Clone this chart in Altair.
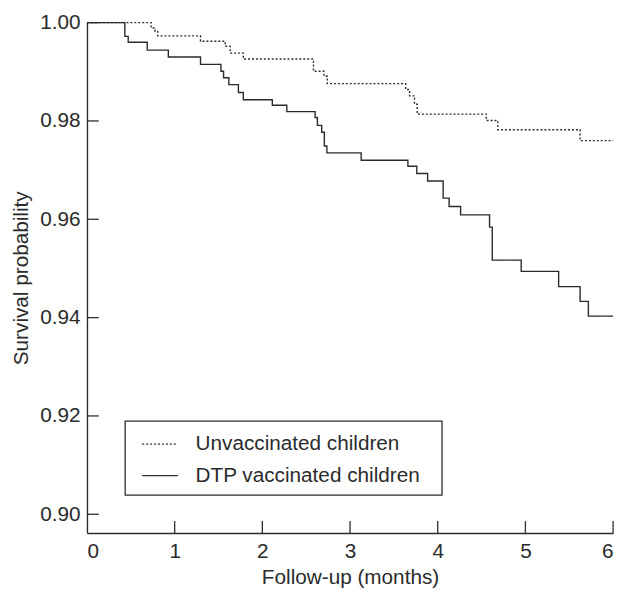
import altair as alt
import pandas as pd

UNVAC = "Unvaccinated children"
DTP = "DTP vaccinated children"

# DTP vaccinated children (value after each step time)
dtp_t = [0, 0.432, 0.47, 0.687, 0.928, 1.295, 1.528, 1.558, 1.618, 1.727, 1.783,
         2.114, 2.279, 2.602, 2.628, 2.677, 2.707, 2.736, 3.127, 3.66, 3.761,
         3.885, 4.062, 4.13, 4.261, 4.591, 4.622, 4.952, 5.379, 5.624, 5.718, 6.0]
dtp_v = [1.0, 0.9972, 0.9960, 0.9944, 0.9930, 0.9915, 0.9901, 0.9888, 0.9874,
         0.9858, 0.9843, 0.9832, 0.9819, 0.9807, 0.9791, 0.9777, 0.9749, 0.9735,
         0.9720, 0.9708, 0.9693, 0.9678, 0.9643, 0.9626, 0.9609, 0.9584, 0.9517,
         0.9494, 0.9463, 0.9433, 0.9403, 0.9403]

# Unvaccinated children
unv_t = [0, 0.732, 0.777, 0.807, 1.295, 1.577, 1.633, 1.783, 2.583, 2.703, 2.741,
         3.634, 3.679, 3.735, 3.766, 4.554, 4.685, 5.624, 6.0]
unv_v = [1.0, 0.9989, 0.9982, 0.9973, 0.9962, 0.9952, 0.9938, 0.9926, 0.9901,
         0.9891, 0.9876, 0.9864, 0.9851, 0.9834, 0.9814, 0.9801, 0.9782, 0.9760,
         0.9760]

x_ticks = [0, 1, 2, 3, 4, 5, 6]
y_ticks = [0.90, 0.92, 0.94, 0.96, 0.98, 1.00]

df = pd.concat([
    pd.DataFrame({"t": unv_t, "v": unv_v, "group": UNVAC}),
    pd.DataFrame({"t": dtp_t, "v": dtp_v, "group": DTP}),
])

FONT = "Liberation Sans"
INK = "#2b2b2b"
FS = 21
W, H = 533, 517

x_enc = alt.X("t:Q",
              scale=alt.Scale(domain=[0, 6], nice=False, zero=False),
              axis=alt.Axis(values=x_ticks, format="d", ticks=False, grid=False,
                            title="Follow-up (months)", labelPadding=8,
                            titlePadding=5))
y_enc = alt.Y("v:Q",
              scale=alt.Scale(domain=[0.8962, 1.0], nice=False, zero=False),
              axis=alt.Axis(values=y_ticks, format=".2f", ticks=False, grid=False,
                            title="Survival probability", labelPadding=7,
                            titlePadding=8))

lines = alt.Chart(df).mark_line(interpolate="step-after", color=INK,
                                strokeWidth=1.4).encode(
    x=x_enc,
    y=y_enc,
    strokeDash=alt.StrokeDash(
        "group:N",
        scale=alt.Scale(domain=[UNVAC, DTP], range=[[2, 2], [10, 0]]),
        legend=alt.Legend(
            title=None, orient="none", legendX=55, legendY=408,
            symbolType="stroke", symbolSize=1296, symbolStrokeWidth=1.2,
            symbolStrokeColor=INK, labelFont=FONT, labelFontSize=FS,
            labelColor=INK, padding=0, symbolOffset=0, labelOffset=17,
            rowPadding=3, labelLimit=400,
        ),
    ),
)

# legend frame
frame = alt.Chart(pd.DataFrame({"k": [0]})).mark_rect(
    fill="white", stroke=INK, strokeWidth=1.3).encode(
    x=alt.value(38.7), x2=alt.value(359.7),
    y=alt.value(403.7), y2=alt.value(478.7))

xt = alt.Chart(pd.DataFrame({"t": x_ticks[1:]})).mark_rule(
    color=INK, strokeWidth=1.3).encode(
    x=x_enc, y=alt.value(H), y2=alt.value(H - 12))

yt = alt.Chart(pd.DataFrame({"v": y_ticks})).mark_rule(
    color=INK, strokeWidth=1.3).encode(
    y=y_enc, x=alt.value(0), x2=alt.value(12))

chart = alt.layer(frame, lines, xt, yt).properties(
    width=W, height=H,
    autosize=alt.AutoSizeParams(type="none"),
    padding={"left": 80, "top": 11, "right": 7, "bottom": 56},
).configure_view(stroke=None).configure_axis(
    domainColor=INK, domainWidth=1.4, labelFont=FONT, titleFont=FONT,
    labelFontSize=FS, titleFontSize=FS, labelColor=INK, titleColor=INK,
    titleFontWeight="normal",
)

chart.save("out.html", embed_options={"renderer": "svg", "actions": False})
